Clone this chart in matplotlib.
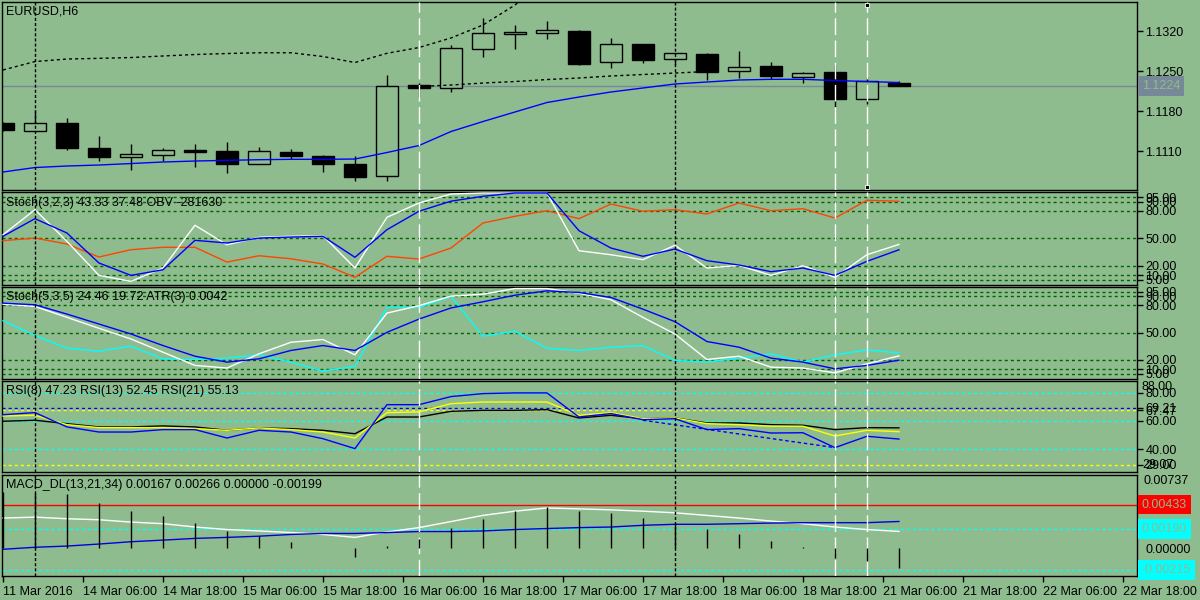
import matplotlib.pyplot as plt
import numpy as np

BG = '#8fbc8f'
plt.rcParams['font.family'] = ['Liberation Sans', 'DejaVu Sans']
plt.rcParams['font.size'] = 9

# --- price data (EURUSD H6) ---
opens = [1.11585, 1.11455, 1.11585, 1.11153, 1.11000, 1.11025, 1.11118, 1.11100,
         1.10867, 1.11083, 1.11013, 1.10873, 1.10657, 1.12255, 1.12197, 1.12880,
         1.13142, 1.13160, 1.13200, 1.12652, 1.12967, 1.12705, 1.12792, 1.12495,
         1.12588, 1.12400, 1.12483, 1.12005, 1.12285]
highs = [1.11600, 1.11818, 1.11672, 1.11363, 1.11223, 1.11153, 1.11223, 1.11258,
         1.11170, 1.11135, 1.11030, 1.11013, 1.12430, 1.12285, 1.12955, 1.13422,
         1.13305, 1.13375, 1.13218, 1.13072, 1.12967, 1.12810, 1.12820, 1.12850,
         1.12663, 1.12488, 1.12605, 1.12390, 1.12325]
lows = [1.11450, 1.11455, 1.11118, 1.10925, 1.10767, 1.10925, 1.10825, 1.10720,
        1.10867, 1.10960, 1.10738, 1.10575, 1.10575, 1.12050, 1.12138, 1.12750,
        1.12885, 1.13060, 1.12605, 1.12558, 1.12635, 1.12605, 1.12343, 1.12383,
        1.12355, 1.12295, 1.11875, 1.11923, 1.12240]
closes = [1.11468, 1.11585, 1.11158, 1.11000, 1.11048, 1.11112, 1.11083, 1.10878,
          1.11095, 1.11018, 1.10878, 1.10650, 1.12232, 1.12208, 1.12897, 1.13160,
          1.13183, 1.13212, 1.12628, 1.12967, 1.12693, 1.12810, 1.12488, 1.12565,
          1.12418, 1.12460, 1.12015, 1.12325, 1.12240]
ma_line = [1.10733, 1.10811, 1.10838, 1.10855, 1.10881, 1.10908, 1.10925, 1.10937,
           1.10948, 1.10955, 1.10955, 1.10960, 1.11074, 1.11196, 1.11441, 1.11616,
           1.11783, 1.11949, 1.12045, 1.12133, 1.12203, 1.12273, 1.12308, 1.12343,
           1.12355, 1.12355, 1.12334, 1.12316, 1.12299]
upper_band = [1.12518, 1.12666, 1.12710, 1.12722, 1.12736, 1.12763, 1.12789, 1.12806,
              1.12820, 1.12820, 1.12754, 1.12649, 1.12810, 1.12911, 1.13078, 1.13305,
              1.13655, 1.14093]
lower_band = [1.12229, 1.12255, 1.12290, 1.12316, 1.12351, 1.12378, 1.12413, 1.12439,
              1.12465, 1.12491]
lower_start = 13
last_price = 1.1224

# --- Stoch(3,2,3) + OBV ---
st1_main = [53.9, 81.2, 46.7, 9.6, 3.1, 17.6, 64.2, 43.0, 51.1, 52.2, 52.8, 17.6, 72.9, 88.5,
            98.3, 99.4, 99.4, 99.4, 36.5, 32.1, 26.7, 42.4, 17.6, 20.5, 9.6, 20.1, 7.5, 32.1, 43.33]
st1_sig = [52.2, 71.4, 55.8, 23.1, 9.6, 15.7, 47.8, 44.9, 50.3, 51.4, 52.2, 29.3, 59.4, 79.5,
           90.5, 95.8, 99.4, 99.4, 58.3, 39.4, 30.4, 38.3, 25.6, 20.9, 13.6, 17.6, 9.6, 24.9, 37.48]
obv = [47.4, 50.3, 43.8, 29.6, 37.6, 40.2, 40.2, 24.1, 31.0, 27.7, 22.0, 7.5, 30.4, 27.4,
       39.4, 66.7, 74.0, 80.1, 71.4, 87.4, 79.5, 81.2, 76.5, 88.5, 80.1, 82.3, 72.1, 91.5, 90.4]

# --- Stoch(5,3,5) + ATR ---
st2_main = [81.2, 78.7, 66.7, 54.7, 43.0, 28.5, 14.0, 11.1, 26.7, 39.4, 42.4, 25.6, 71.4, 79.5,
            90.0, 92.1, 98.3, 98.3, 93.2, 86.0, 66.7, 48.5, 20.5, 24.1, 12.1, 11.1, 5.9, 15.7, 24.46]
st2_sig = [82.3, 80.5, 70.3, 59.4, 48.5, 35.8, 24.1, 17.6, 21.2, 30.4, 35.8, 30.4, 50.3, 64.8,
           77.0, 83.8, 91.0, 95.8, 94.0, 88.5, 75.7, 62.0, 40.2, 34.0, 22.0, 17.6, 10.3, 14.0, 19.72]
atr = [63.1, 46.7, 32.9, 29.6, 35.1, 21.2, 20.5, 22.0, 25.6, 17.6, 7.8, 12.9, 77.6, 77.6,
       89.6, 46.0, 51.4, 32.9, 30.4, 34.0, 35.8, 19.5, 17.6, 22.0, 26.7, 17.6, 25.6, 31.0, 27.7]
stoch_levels = [95, 90, 80, 50, 20, 10, 5]

# --- RSI ---
rsi8 = [64.4, 65.9, 55.8, 52.2, 52.2, 53.9, 53.9, 48.0, 53.4, 52.2, 47.5, 40.5, 71.5, 71.5,
        77.2, 79.3, 79.8, 79.8, 62.8, 65.2, 60.9, 61.6, 53.9, 54.6, 51.5, 51.7, 41.2, 49.2, 47.23]
rsi13 = [63.5, 64.0, 57.4, 55.3, 55.3, 55.3, 54.6, 53.4, 55.1, 53.9, 52.2, 48.0, 65.9, 66.4,
         72.2, 73.4, 73.4, 73.4, 64.0, 65.9, 61.6, 62.1, 58.1, 57.4, 56.3, 56.3, 49.4, 53.4, 52.45]
rsi21 = [59.8, 60.5, 58.1, 55.8, 55.8, 56.5, 55.8, 53.4, 55.1, 54.6, 53.4, 51.0, 62.8, 62.8,
         66.8, 67.5, 67.5, 68.0, 62.1, 64.0, 61.6, 62.1, 58.6, 58.6, 57.4, 57.0, 53.9, 55.3, 55.13]
rsi_trend_x = [20, 26]
rsi_trend_y = [60.5, 41.2]

# --- MACD_DL ---
macd_hist = [0.0056, 0.0055, 0.0054, 0.0045, 0.00374, 0.00316, 0.0025, 0.00169, 0.0012,
             0.00065, 0.0, -0.00082, 0.0002, 0.0009, 0.002, 0.00293, 0.00368, 0.00407,
             0.00365, 0.00352, 0.00303, 0.00244, 0.00189, 0.0014, 0.00074, 0.00016,
             -0.00092, -0.00127, -0.00199]
macd_main = [0.0030, 0.00309, 0.00293, 0.00283, 0.0026, 0.00244, 0.00211, 0.00186, 0.00172,
             0.00156, 0.00137, 0.00108, 0.00162, 0.00205, 0.00265, 0.00326, 0.00368, 0.0040,
             0.00391, 0.00381, 0.00368, 0.00352, 0.00326, 0.0030, 0.0027, 0.00244, 0.00211,
             0.00186, 0.00167]
macd_sig = [-0.0001, 0.0001, 0.00022, 0.00042, 0.00065, 0.00081, 0.00098, 0.00108, 0.0012,
            0.00137, 0.00147, 0.00147, 0.00156, 0.00166, 0.00166, 0.00172, 0.00186, 0.00196,
            0.00205, 0.00211, 0.00228, 0.00238, 0.00238, 0.00244, 0.0025, 0.00254, 0.00254,
            0.00254, 0.00266]

time_labels = ['11 Mar 2016', '14 Mar 06:00', '14 Mar 18:00', '15 Mar 06:00', '15 Mar 18:00',
               '16 Mar 06:00', '16 Mar 18:00', '17 Mar 06:00', '17 Mar 18:00', '18 Mar 06:00',
               '18 Mar 18:00', '21 Mar 06:00', '21 Mar 18:00', '22 Mar 06:00', '22 Mar 18:00']

black_vlines = [1, 21]
white_vlines = [13, 26, 27]

LEVEL = dict(color='#006400', lw=1, ls=(0, (2.2, 2.2)), zorder=1)
x = np.arange(len(closes))

fig = plt.figure(figsize=(12, 6), dpi=100, facecolor=BG)


def panel(top, bottom):
    ax = fig.add_axes([2 / 1200, 1 - bottom / 600, 1135 / 1200, (bottom - top) / 600])
    ax.set_facecolor(BG)
    for s in ax.spines.values():
        s.set_linewidth(1)
        s.set_color('black')
    ax.yaxis.tick_right()
    ax.tick_params(axis='y', direction='out', length=4, width=1, pad=2, labelsize=9)
    ax.tick_params(axis='x', bottom=False, labelbottom=False)
    ax.set_xlim(-0.03, 35.44)
    for v in black_vlines:
        ax.axvline(v, color='black', lw=1, ls=(0, (2.2, 1.5)), zorder=6)
    for v in white_vlines:
        ax.axvline(v, color='white', lw=1, ls=(0, (12, 4)), zorder=6)
    return ax


def legend(ax, text, dy=-10):
    ax.annotate(text, xy=(0, 1), xycoords='axes fraction', xytext=(4, dy),
                textcoords='offset pixels', va='center', ha='left', fontsize=9)


def box_label(ax, value, text, fc):
    ax.annotate(text, xy=(1, value), xycoords=('axes fraction', 'data'), xytext=(5, 0),
                textcoords='offset pixels', va='center', ha='left', fontsize=9, color=BG,
                bbox=dict(boxstyle='square,pad=0.3', fc=fc, ec='none'), annotation_clip=False)


# main chart
ax1 = panel(2, 190)
ax1.set_ylim(1.10418, 1.13708)
o, h, l, c = map(np.array, (opens, highs, lows, closes))
ax1.axhline(last_price, color='#778899', lw=1, zorder=1)
ax1.vlines(x, l, h, color='black', lw=1, zorder=2)
ax1.bar(x, np.abs(c - o), bottom=np.minimum(o, c), width=0.69,
        color=np.where(c < o, 'black', BG), edgecolor='black', lw=1, zorder=3)
ax1.plot(x, ma_line, color='#0000ff', lw=1, zorder=4)
ax1.plot(np.arange(len(upper_band)), upper_band, color='black', lw=1, ls=(0, (2.2, 2.2)), zorder=4)
ax1.plot(np.arange(lower_start, lower_start + len(lower_band)), lower_band,
         color='black', lw=1, ls=(0, (2.2, 2.2)), zorder=4)
ax1.plot([27, 27], [0.983, 0.017], 's', transform=ax1.get_xaxis_transform(), ms=3.5,
         color='black', mec='white', mew=0.6, zorder=7, clip_on=False)
ax1.set_yticks([1.1110, 1.1180, 1.1250, 1.1320], ['1.1110', '1.1180', '1.1250', '1.1320'])
box_label(ax1, last_price, '1.1224', '#778899')
legend(ax1, 'EURUSD,H6')

# Stoch(3,2,3)
ax2 = panel(192, 285)
ax2.set_ylim(-0.9, 100.5)
for v in stoch_levels:
    ax2.axhline(v, **LEVEL)
ax2.plot(x, obv, color='#ff4500', lw=1, zorder=3)
ax2.plot(x, st1_main, color='white', lw=1, zorder=4)
ax2.plot(x, st1_sig, color='#0000ff', lw=1, zorder=5)
ax2.set_yticks(stoch_levels, ['%.2f' % v for v in stoch_levels])
legend(ax2, 'Stoch(3,2,3) 43.33 37.48 OBV -281630', -11)

# Stoch(5,3,5)
ax3 = panel(287, 379)
ax3.set_ylim(-0.9, 100)
for v in stoch_levels:
    ax3.axhline(v, **LEVEL)
ax3.plot(x, atr, color='#00ffff', lw=1, zorder=3)
ax3.plot(x, st2_main, color='white', lw=1, zorder=4)
ax3.plot(x, st2_sig, color='#0000ff', lw=1, zorder=5)
ax3.set_yticks(stoch_levels, ['%.2f' % v for v in stoch_levels])
legend(ax3, 'Stoch(5,3,5) 24.46 19.72 ATR(3) 0.0042')

# RSI
ax4 = panel(381, 472)
ax4.set_ylim(24.0, 88.2)
for v, col in [(80, '#00ffff'), (69.21, '#0000ff'), (67.47, '#ffff00'),
               (60, '#00ffff'), (40, '#00ffff'), (29, '#ffff00')]:
    ax4.axhline(v, color=col, lw=1, ls=(0, (2.2, 2.2)), zorder=1)
ax4.plot(rsi_trend_x, rsi_trend_y, color='#0000ff', lw=1, ls=(0, (2.5, 2)), zorder=2)
ax4.plot(x, rsi21, color='black', lw=1, zorder=3)
ax4.plot(x, rsi13, color='#ffff00', lw=1, zorder=4)
ax4.plot(x, rsi8, color='#0000ff', lw=1, zorder=5)
rsi_ticks = [80, 69.21, 67.47, 60, 40, 29]
ax4.set_yticks(rsi_ticks, ['%.2f' % v for v in rsi_ticks])
ax4.annotate('88.00', xy=(1, 1), xycoords='axes fraction', xytext=(5, -6),
             textcoords='offset pixels', va='center', ha='left', fontsize=9)
ax4.annotate('29.07', xy=(1, 29), xycoords=('axes fraction', 'data'), xytext=(5, 0),
             textcoords='offset pixels', va='center', ha='left', fontsize=9)
legend(ax4, 'RSI(8) 47.23 RSI(13) 52.45 RSI(21) 55.13')

# MACD_DL
ax5 = panel(475, 576)
ax5.set_ylim(-0.00275, 0.00727)
ax5.axhline(0.00433, color='#ff0000', lw=1, zorder=1)
for v in (0.00190, -0.00215):
    ax5.axhline(v, color='#00ffff', lw=1, ls=(0, (2.2, 2.2)), zorder=1)
ax5.vlines(x, 0, macd_hist, color='black', lw=1, zorder=7)
ax5.plot(x, macd_main, color='white', lw=1, zorder=3)
ax5.plot(x, macd_sig, color='#0000dd', lw=1, zorder=4)
ax5.set_yticks([0.0], ['0.00000'])
ax5.tick_params(axis='y', length=0, pad=6)
ax5.annotate('0.00737', xy=(1, 1), xycoords='axes fraction', xytext=(6, -6),
             textcoords='offset pixels', va='center', ha='left', fontsize=9)
box_label(ax5, 0.00433, '0.00433', '#ff0000')
box_label(ax5, 0.00190, '0.00190', '#00ffff')
box_label(ax5, -0.00215, '-0.00215', '#00ffff')
legend(ax5, 'MACD_DL(13,21,34) 0.00167 0.00266 0.00000 -0.00199')

ax5.tick_params(axis='x', bottom=True, labelbottom=True, direction='out',
                length=4, width=1, pad=3, labelsize=9)
ax5.set_xticks([2.5 * k for k in range(len(time_labels))], time_labels)
for lbl in ax5.get_xticklabels():
    lbl.set_ha('left')

fig.savefig('out.png', dpi=100, facecolor=BG)
